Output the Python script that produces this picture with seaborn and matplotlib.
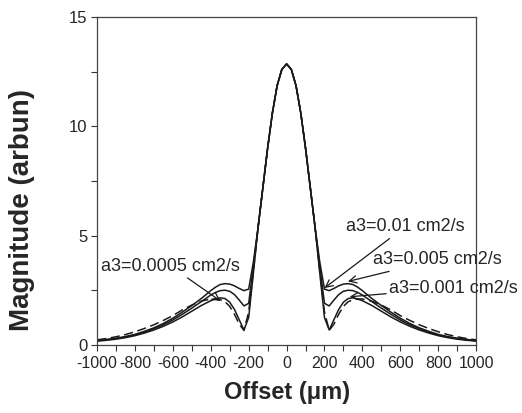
import numpy as np
import pandas as pd
import matplotlib
matplotlib.use("Agg")
import matplotlib.pyplot as plt
import seaborn as sns
from matplotlib.ticker import MultipleLocator

# Offsets (um) for one half of the profile; profiles are symmetric about 0
offset_half = [0, 25, 50, 75, 100, 125, 150, 175, 200, 225, 250, 275, 300, 325,
               350, 375, 400, 450, 500, 550, 600, 650, 700, 750, 800, 850, 900, 950, 1000]

# a3 = 0.01 cm2/s
mag_001 = [12.85, 12.6, 11.85, 10.6, 9.0, 7.2, 5.4, 3.8, 2.55, 2.48, 2.58, 2.7, 2.78, 2.8,
           2.76, 2.64, 2.48, 2.12, 1.8, 1.5, 1.22, 0.98, 0.78, 0.62, 0.48, 0.38, 0.3, 0.25, 0.2]
# a3 = 0.005 cm2/s
mag_0005 = [12.85, 12.6, 11.85, 10.6, 9.0, 7.2, 5.4, 3.6, 1.9, 1.78, 2.05, 2.3, 2.45, 2.5,
            2.48, 2.4, 2.28, 1.98, 1.68, 1.4, 1.14, 0.92, 0.74, 0.58, 0.45, 0.36, 0.29, 0.23, 0.19]
# a3 = 0.001 cm2/s
mag_0001 = [12.85, 12.6, 11.85, 10.6, 9.0, 7.2, 5.4, 3.3, 1.25, 0.68, 1.15, 1.62, 1.95, 2.12,
            2.15, 2.1, 2.02, 1.8, 1.54, 1.28, 1.05, 0.85, 0.68, 0.54, 0.42, 0.33, 0.26, 0.21, 0.17]
# a3 = 0.0005 cm2/s (dashed)
mag_00005 = [12.85, 12.6, 11.85, 10.6, 9.0, 7.2, 5.4, 3.4, 1.5, 0.66, 0.95, 1.4, 1.76, 1.97,
             2.07, 2.1, 2.1, 2.0, 1.82, 1.6, 1.34, 1.12, 0.92, 0.75, 0.6, 0.47, 0.37, 0.29, 0.23]


def mirror(half):
    half = np.asarray(half, dtype=float)
    return np.concatenate([half[:0:-1], half])


x_full = np.concatenate([-np.asarray(offset_half[:0:-1], dtype=float), np.asarray(offset_half, dtype=float)])

sns.set_style("ticks")
plt.rcParams['font.family'] = ['Liberation Sans', 'DejaVu Sans']
plt.rcParams['axes.unicode_minus'] = False

fig = plt.figure(figsize=(5.22, 4.13), dpi=100)
ax = fig.add_axes([0.186, 0.165, 0.726, 0.794])

line_kw = dict(color="#1a1a1a", linewidth=1.1, ax=ax)
sns.lineplot(x=x_full, y=mirror(mag_001), **line_kw)
sns.lineplot(x=x_full, y=mirror(mag_0005), **line_kw)
sns.lineplot(x=x_full, y=mirror(mag_0001), **line_kw)
sns.lineplot(x=x_full, y=mirror(mag_00005), linestyle=(0, (6, 3)), **line_kw)

ax.set_xlim(-1000, 1000)
ax.set_ylim(0, 15)
ax.set_xticks(np.arange(-1000, 1001, 200))
ax.xaxis.set_minor_locator(MultipleLocator(100))
ax.set_yticks([0, 5, 10, 15])
ax.yaxis.set_minor_locator(MultipleLocator(2.5))
ax.tick_params(axis='both', which='both', direction='out', length=4, width=0.8,
               color='#333333', labelsize=12, pad=3)
ax.tick_params(axis='x', labelsize=11.5, pad=4)
for s in ax.spines.values():
    s.set_linewidth(0.9)
    s.set_color('#444444')

ax.set_xlabel('Offset (\u03bcm)', fontsize=17, fontweight='bold', labelpad=7)
ax.set_ylabel('Magnitude (arbun)', fontsize=20, fontweight='bold')
ax.yaxis.set_label_coords(-0.199, 0.41)
ax.yaxis.label.set_va('center')

arrow = dict(arrowstyle='->', color='#1a1a1a', lw=0.9, shrinkA=0, shrinkB=0)
ax.annotate('a3=0.01 cm2/s', xy=(200, 2.6), xytext=(312, 5.4), fontsize=13,
            ha='left', va='center', arrowprops=arrow)
ax.annotate('a3=0.005 cm2/s', xy=(324, 2.9), xytext=(455, 3.9), fontsize=13,
            ha='left', va='center', arrowprops=arrow)
ax.annotate('a3=0.001 cm2/s', xy=(333, 2.2), xytext=(543, 2.6), fontsize=13,
            ha='left', va='center', arrowprops=arrow)
ax.annotate('a3=0.0005 cm2/s', xy=(-348, 2.0), xytext=(-978, 3.6), fontsize=13,
            ha='left', va='center', arrowprops=arrow)

fig.savefig('out.png', dpi=100)
